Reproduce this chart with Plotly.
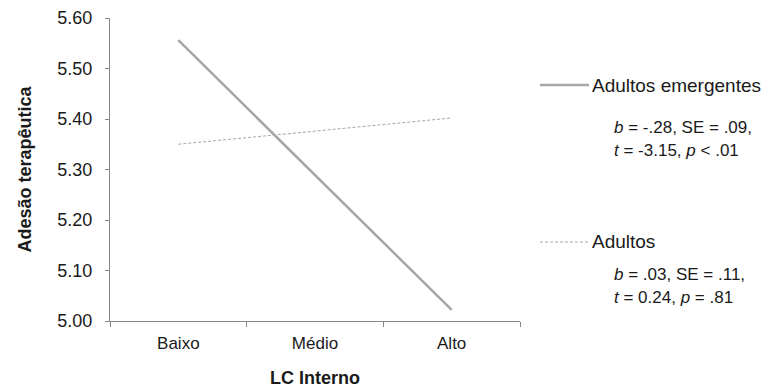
import plotly.graph_objects as go

categories = ["Baixo", "Médio", "Alto"]
emergentes = [5.556, 5.289, 5.022]
adultos = [5.350, 5.376, 5.402]
y_ticks = [5.00, 5.10, 5.20, 5.30, 5.40, 5.50, 5.60]
y_tick_labels = ["5.00", "5.10", "5.20", "5.30", "5.40", "5.50", "5.60"]
series_names = ["Adultos emergentes", "Adultos"]
stats_emergentes = ["<i>b</i> = -.28, SE = .09,", "<i>t</i> = -3.15, <i>p</i> < .01"]
stats_adultos = ["<i>b</i> = .03, SE = .11,", "<i>t</i> = 0.24, <i>p</i> = .81"]

OFF = 8  # default page body margin
W, H = 774 - OFF, 390 - OFF
L, R, T, B = 110 - OFF, 254, 18 - OFF, 69
pw, ph = W - L - R, H - T - B

def px(x):
    return (x - OFF - L) / pw

def py(y):
    return (H - B - (y - OFF)) / ph

LINE = "#a6a6a6"
AXIS = "#868686"
TXT = "#1a1a1a"
FONT = "Liberation Sans, Arial, sans-serif"
DASH = "3px,2px"

fig = go.Figure()
fig.add_trace(go.Scatter(x=categories, y=emergentes, mode="lines",
                         line=dict(color=LINE, width=2.5), name=series_names[0]))
fig.add_trace(go.Scatter(x=categories, y=adultos, mode="lines",
                         line=dict(color=LINE, width=1, dash=DASH), name=series_names[1]))

shapes = [
    dict(type="line", xref="paper", yref="paper", x0=px(540), x1=px(589), y0=py(85), y1=py(85),
         line=dict(color=LINE, width=2.5)),
    dict(type="line", xref="paper", yref="paper", x0=px(540), x1=px(589), y0=py(242), y1=py(242),
         line=dict(color=LINE, width=1, dash=DASH)),
]

annotations = [
    dict(text=series_names[0], x=px(590), y=py(85), xref="paper", yref="paper",
         xanchor="left", yanchor="middle", showarrow=False, font=dict(size=19, color=TXT, family=FONT)),
    dict(text=series_names[1], x=px(590), y=py(241), xref="paper", yref="paper",
         xanchor="left", yanchor="middle", showarrow=False, font=dict(size=19, color=TXT, family=FONT)),
]
for txt, yy in zip(stats_emergentes, [127, 150]):
    annotations.append(dict(text=txt, x=px(612), y=py(yy), xref="paper", yref="paper",
                            xanchor="left", yanchor="middle", showarrow=False,
                            font=dict(size=17, color=TXT, family=FONT)))
for txt, yy in zip(stats_adultos, [274, 297]):
    annotations.append(dict(text=txt, x=px(612), y=py(yy), xref="paper", yref="paper",
                            xanchor="left", yanchor="middle", showarrow=False,
                            font=dict(size=17, color=TXT, family=FONT)))

fig.update_layout(
    width=W, height=H,
    margin=dict(l=L, r=R, t=T, b=B, autoexpand=False),
    plot_bgcolor="white", paper_bgcolor="white",
    showlegend=False,
    shapes=shapes, annotations=annotations,
    font=dict(family=FONT, color=TXT),
    xaxis=dict(
        type="category", range=[-0.5, 2.5], showgrid=False, zeroline=False,
        showline=True, linecolor=AXIS, linewidth=1,
        ticks="outside", tickson="boundaries", ticklen=5, tickcolor=AXIS,
        ticklabelstandoff=7,
        tickfont=dict(size=17, color=TXT),
        title=dict(text="<b>LC Interno</b>", font=dict(size=18, color=TXT), standoff=18),
    ),
    yaxis=dict(
        range=[5.0, 5.6], tickvals=y_ticks, ticktext=y_tick_labels,
        showgrid=False, zeroline=False, showline=True, linecolor=AXIS, linewidth=1,
        ticks="outside", ticklen=4, tickcolor=AXIS,
        ticklabelstandoff=9,
        tickfont=dict(size=18, color=TXT),
        title=dict(text="<b>Adesão terapêutica</b>", font=dict(size=18, color=TXT), standoff=21),
    ),
)

fig.write_html("out.html")
